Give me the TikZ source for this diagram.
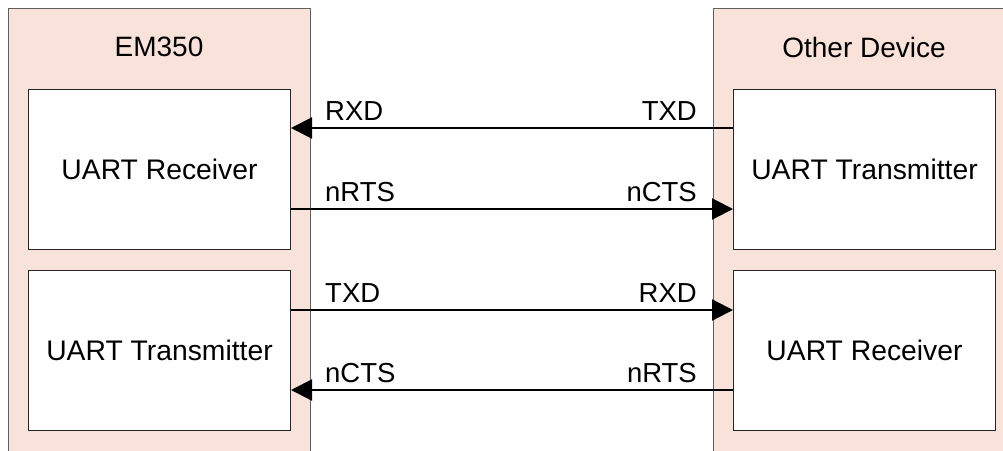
\documentclass[tikz,border=0pt]{standalone}
\usepackage{fontspec}
\setmainfont{Liberation Sans}
\usetikzlibrary{arrows.meta}
\definecolor{panelfill}{HTML}{F8E2DA}
\definecolor{panelline}{HTML}{606060}
\tikzset{
  panel/.style={draw=panelline, fill=panelfill, line width=1pt},
  unit/.style={draw=black!85, fill=white, line width=1pt, anchor=north west, inner sep=0pt,
    minimum width=262pt, minimum height=160pt, font=\fontsize{28.3}{32}\selectfont},
  title/.style={font=\fontsize{28}{32}\selectfont, inner sep=0pt},
  sig/.style={line width=2.2pt, -{Triangle[length=21pt,width=21pt]}},
  lbl/.style={font=\fontsize{27.5}{32}\selectfont, inner sep=0pt, anchor=base west},
  lblr/.style={font=\fontsize{27.5}{32}\selectfont, inner sep=0pt, anchor=base east},
}
\begin{document}
\begin{tikzpicture}[x=1pt,y=-1pt]
\useasboundingbox (0,0) rectangle (1003,450);
\begin{scope}
\clip (0,0) rectangle (1003,450);
\fill[white] (0,0) rectangle (1003,450);
\draw[panel] (8,8) rectangle (310,470);
\draw[panel] (713,8) rectangle (1020,470);
\end{scope}
\node[title] (em) at (159,47) {EM350};
\node[title] (od) at (864,47) {Other Device};
\node[unit] (lrx) at (28,89) {UART Receiver};
\node[unit] (ltx) at (28,270) {UART Transmitter};
\node[unit] (rtx) at (733,89) {UART Transmitter};
\node[unit] (rrx) at (733,270) {UART Receiver};
\coordinate (a1) at (lrx.east |- 0,128);
\coordinate (b1) at (rtx.west |- 0,128);
\coordinate (a2) at (lrx.east |- 0,209);
\coordinate (b2) at (rtx.west |- 0,209);
\coordinate (a3) at (ltx.east |- 0,310);
\coordinate (b3) at (rrx.west |- 0,310);
\coordinate (a4) at (ltx.east |- 0,390);
\coordinate (b4) at (rrx.west |- 0,390);
\draw[sig] (b1) -- (a1);
\draw[sig] (a2) -- (b2);
\draw[sig] (a3) -- (b3);
\draw[sig] (b4) -- (a4);
\node[lbl] (l1) at (325,120) {RXD};
\node[lblr] (r1) at (697,120) {TXD};
\node[lbl] (l2) at (325,201) {nRTS};
\node[lblr] (r2) at (697,201) {nCTS};
\node[lbl] (l3) at (325,302) {TXD};
\node[lblr] (r3) at (697,302) {RXD};
\node[lbl] (l4) at (325,382) {nCTS};
\node[lblr] (r4) at (697,382) {nRTS};
\end{tikzpicture}
\end{document}
